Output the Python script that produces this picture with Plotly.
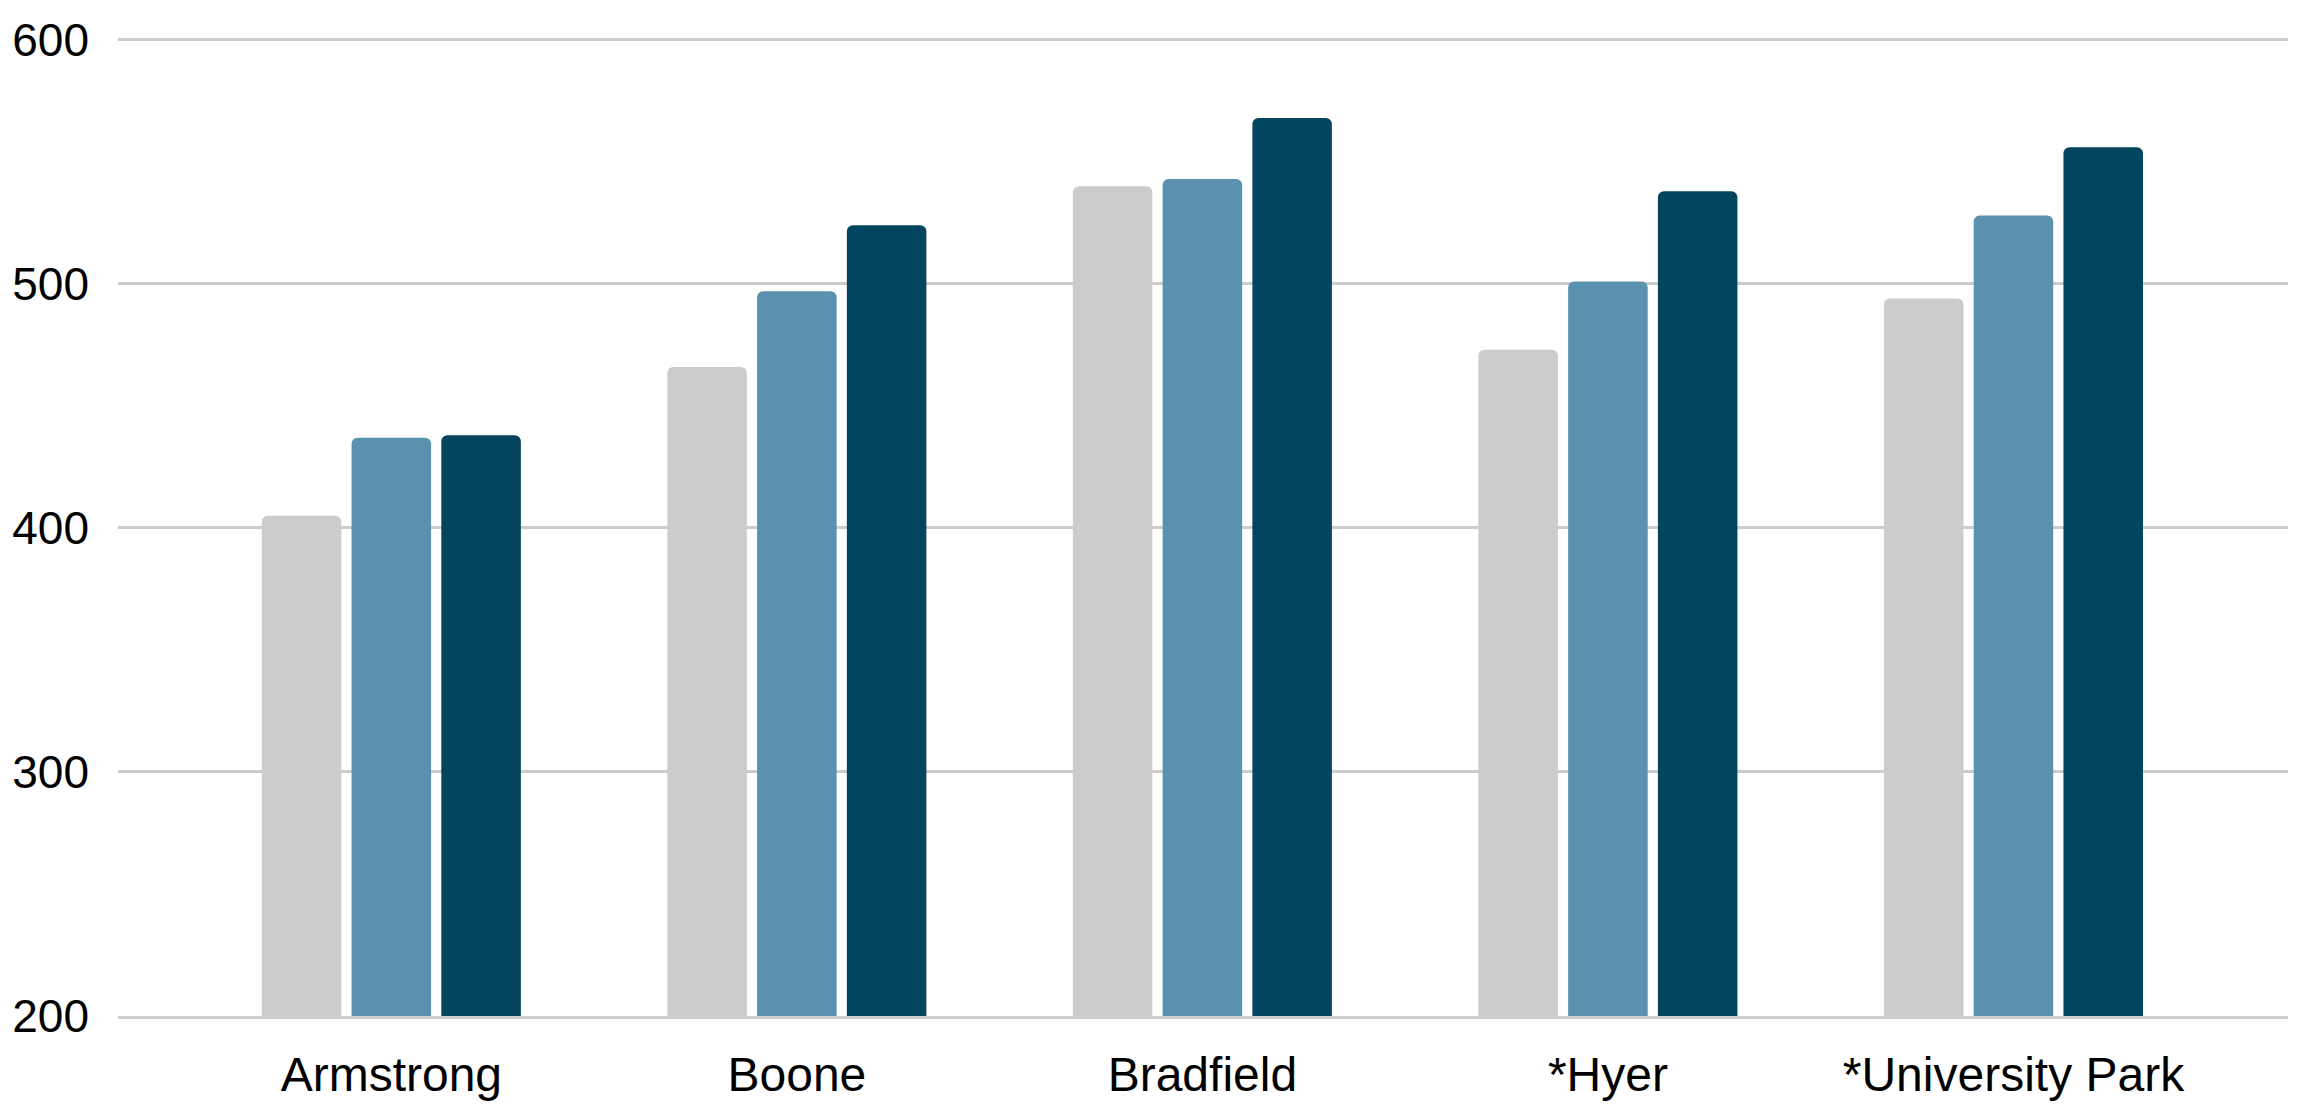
import plotly.graph_objects as go

categories = ["Armstrong", "Boone", "Bradfield", "*Hyer", "*University Park"]
series1 = [405, 466, 540, 473, 494]
series2 = [437, 497, 543, 501, 528]
series3 = [438, 524, 568, 538, 556]
colors = ["#cccccc", "#5a91ae", "#03455f"]
y_ticks = [200, 300, 400, 500, 600]

fig = go.Figure()
for vals, col in zip([series1, series2, series3], colors):
    fig.add_trace(go.Bar(x=categories, y=vals, marker=dict(color=col, line=dict(width=0)),
                         showlegend=False, hoverinfo="skip"))

fig.update_layout(
    width=2305, height=1113,
    margin=dict(l=117, r=17, t=35, b=88),
    paper_bgcolor="white", plot_bgcolor="white",
    barmode="group", bargap=0.336, bargroupgap=0.114, barcornerradius=6,
    font=dict(family="Liberation Sans, Arial, sans-serif", color="#000000"),
)
fig.update_xaxes(range=[-0.674, 4.677], showgrid=False, zeroline=False, ticks="",
                 showline=True, linecolor="#cccccc", linewidth=3,
                 tickfont=dict(size=48), ticklabelstandoff=14)
fig.update_yaxes(range=[200, 602], tickvals=y_ticks, showgrid=True, gridcolor="#cccccc",
                 gridwidth=3, zeroline=False, showline=False, ticks="",
                 tickfont=dict(size=46), ticklabelstandoff=28)

fig.write_html("out.html", config={"displayModeBar": False},
               post_script="document.body.style.margin='0';document.body.style.overflow='hidden';")
